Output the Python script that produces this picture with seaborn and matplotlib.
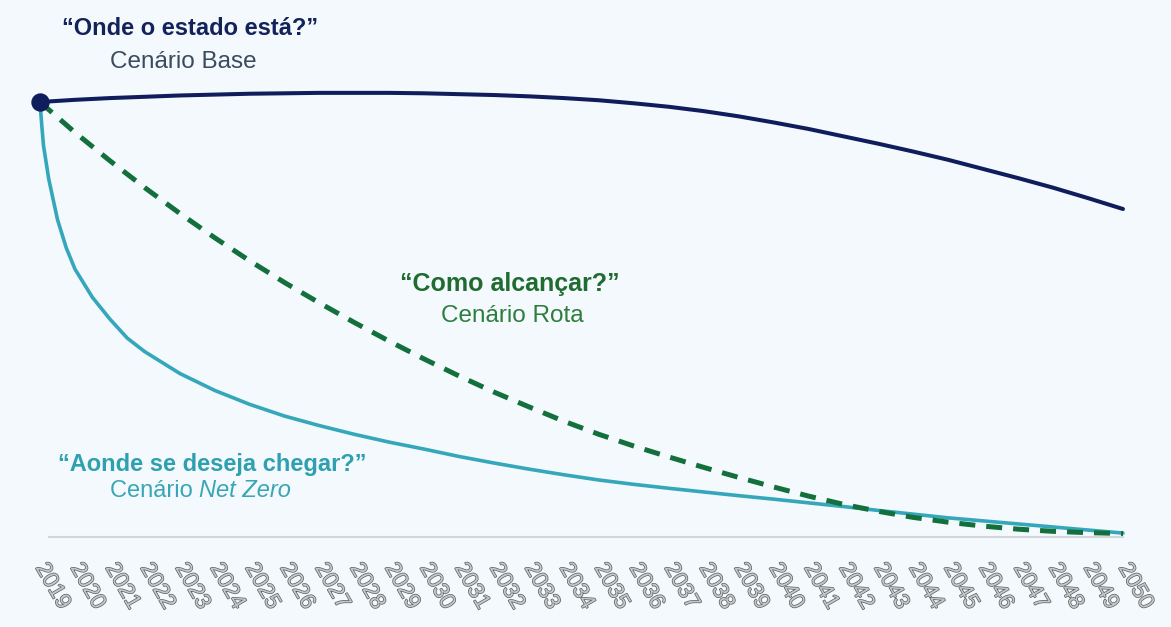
import numpy as np
import pandas as pd
import matplotlib
matplotlib.use("Agg")
import matplotlib.pyplot as plt
import matplotlib.patheffects as pe
import seaborn as sns

# anos do eixo x
years = list(range(2019, 2051))
year_labels = [str(y) for y in years]

# Cenário Base (índice, 2019 = 100)
base = [100.0, 100.5, 100.9, 101.2, 101.5, 101.7, 101.9, 102.0, 102.1, 102.1,
        102.1, 102.0, 101.8, 101.6, 101.3, 100.9, 100.4, 99.7, 98.9, 97.9,
        96.7, 95.3, 93.8, 92.1, 90.4, 88.6, 86.7, 84.6, 82.5, 80.3, 77.9, 75.4]

# Cenário Rota (tracejado)
rota = [100.0, 93.0, 86.5, 80.3, 74.4, 68.8, 63.5, 58.5, 53.8, 49.3,
        45.0, 40.9, 37.0, 33.3, 29.9, 26.6, 23.6, 20.9, 18.4, 16.0,
        13.7, 11.5, 9.4, 7.5, 5.9, 4.5, 3.4, 2.5, 1.8, 1.3, 1.0, 0.8]

# Cenário Net Zero (leitura mais fina no início, onde a curva cai rápido)
netzero_years = [2019.0, 2019.05, 2019.1, 2019.25, 2019.5, 2019.75, 2020, 2020.5,
                 2021, 2021.5] + list(range(2022, 2051))
netzero = [100.0, 94.7, 90.0, 82.3, 73.0, 66.5, 61.6, 55.1,
           50.1, 45.7, 42.6, 37.6, 33.7, 30.5, 27.8, 25.6, 23.6, 21.8,
           20.2, 18.5, 17.0, 15.6, 14.3, 13.1, 12.1, 11.2, 10.35, 9.5,
           8.7, 7.85, 7.0, 6.1, 5.25, 4.4, 3.7, 3.0, 2.3, 1.6, 0.9]

NAVY = "#0f1d5c"
TEAL = "#35a7ba"
GREEN = "#13703d"
BG = "#f3f9fc"

sns.set_style("white")
plt.rcParams["font.family"] = ["Liberation Sans", "DejaVu Sans"]

fig = plt.figure(figsize=(11.71, 6.27), dpi=100, facecolor=BG)
W, H = 1171, 627
ax = fig.add_axes([40 / W, (H - 537) / H, 1083 / W, (537 - 102) / H])
ax.set_facecolor(BG)

df_nz = pd.DataFrame({"ano": netzero_years, "valor": netzero})
df_rota = pd.DataFrame({"ano": years, "valor": rota})
df_base = pd.DataFrame({"ano": years, "valor": base})

sns.lineplot(df_nz, x="ano", y="valor", color=TEAL, linewidth=2.6, ax=ax,
             clip_on=False, sort=False, solid_joinstyle="round")
sns.lineplot(df_rota, x="ano", y="valor", color=GREEN, linewidth=3.6, ax=ax,
             linestyle=(0, (3.2, 2.2)), clip_on=False, sort=False)
sns.lineplot(df_base, x="ano", y="valor", color=NAVY, linewidth=2.9, ax=ax,
             clip_on=False, sort=False)
sns.scatterplot(x=[years[0]], y=[base[0]], color=NAVY, s=150, ax=ax,
                clip_on=False, zorder=5, edgecolor=NAVY)

ax.set_xlim(2019, 2050)
ax.set_ylim(0, 100)
ax.set_xlabel("")
ax.set_ylabel("")
ax.set_yticks([])
for side in ["top", "right", "left"]:
    ax.spines[side].set_visible(False)
ax.spines["bottom"].set_color("#d2d6da")
ax.spines["bottom"].set_linewidth(1.5)
ax.spines["bottom"].set_bounds(2019.25, 2050)

ax.set_xticks(years)
ax.set_xticklabels(year_labels, rotation=-60, ha="left", va="center",
                   rotation_mode="anchor", fontsize=16)
ax.tick_params(axis="x", length=0, pad=20)
for lab in ax.get_xticklabels():
    lab.set_color("#c4c8cb")
    lab.set_path_effects([pe.Stroke(linewidth=1.0, foreground="#5c5c5c"), pe.Normal()])


def fx(px):
    return px / W


def fy(py):
    return (H - py) / H


fig.text(fx(62), fy(35), "\u201cOnde o estado está?\u201d", fontsize=17,
         fontweight="bold", color="#14225a", va="baseline")
fig.text(fx(110), fy(68), "Cenário Base", fontsize=17.5, color="#3b4a5e",
         va="baseline")
fig.text(fx(400), fy(291), "\u201cComo alcançar?\u201d", fontsize=18,
         fontweight="bold", color="#1f6b30", va="baseline")
fig.text(fx(441), fy(322), "Cenário Rota", fontsize=17.5, color="#2e7d3e",
         va="baseline")
fig.text(fx(58), fy(471), "\u201cAonde se deseja chegar?\u201d", fontsize=17,
         fontweight="bold", color="#2ea0b0", va="baseline")
t1 = fig.text(fx(110), fy(497), "Cenário ", fontsize=17, color="#3aa6b5",
              va="baseline")
fig.canvas.draw()
bb = t1.get_window_extent()
fig.text(bb.x1 / W, fy(497), "Net Zero", fontsize=17, color="#3aa6b5",
         style="italic", va="baseline")

fig.savefig("out.png", dpi=100, facecolor=BG)
